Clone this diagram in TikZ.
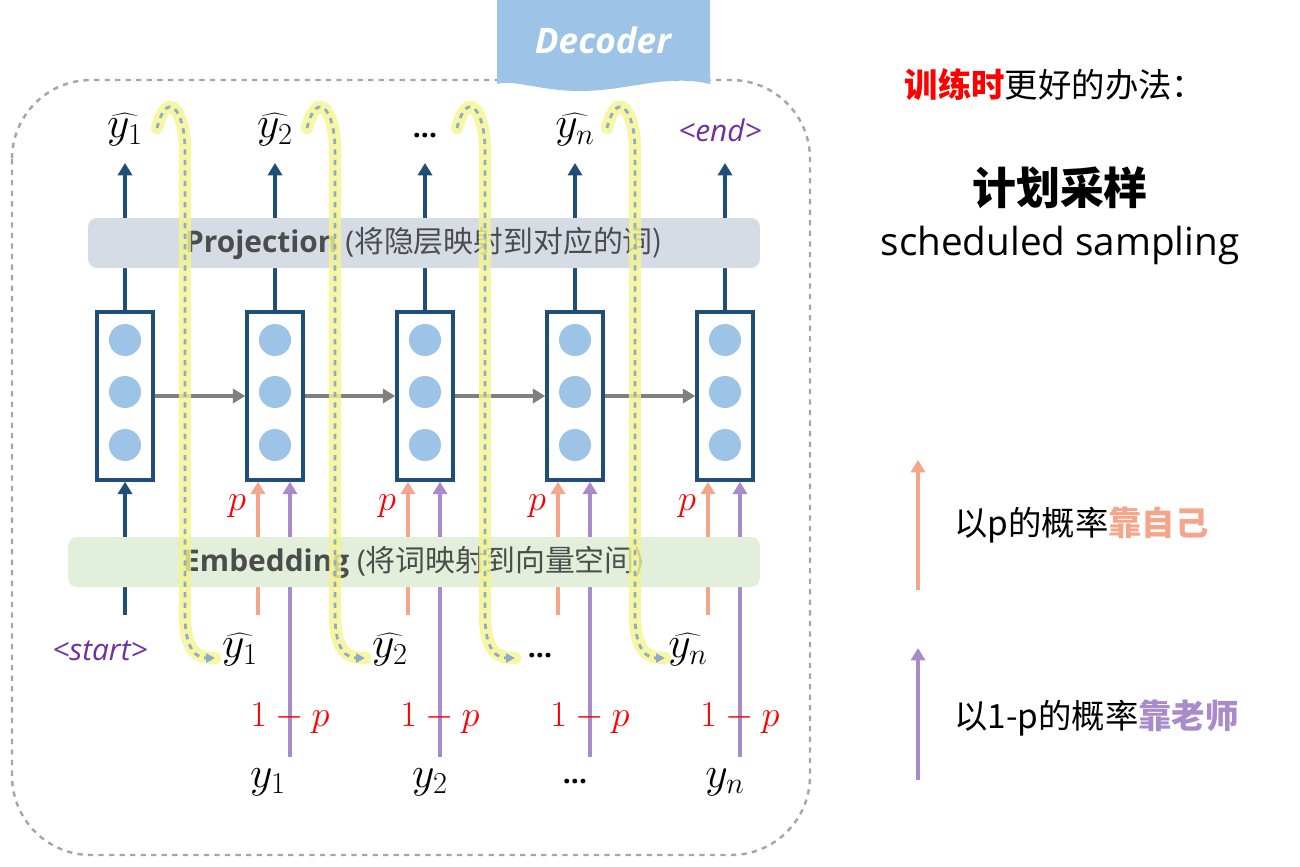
\documentclass[tikz,border=0pt]{standalone}
\usepackage{fontspec}
\setmainfont{Open Sans}
\newfontfamily\cjk{Noto Sans CJK SC}
\usetikzlibrary{arrows.meta}
\definecolor{cellblue}{HTML}{9DC3E6}
\definecolor{boxblue}{HTML}{1F4E79}
\definecolor{projgray}{HTML}{D6DCE5}
\definecolor{embgreen}{HTML}{E2EFDA}
\definecolor{selfred}{HTML}{F4A58A}
\definecolor{teachpurple}{HTML}{A98ACB}
\definecolor{tokpurple}{HTML}{7030A0}
\definecolor{hlyellow}{HTML}{F5F58C}
\definecolor{loopblue}{HTML}{8FAACB}
\tikzset{
  cell/.style={draw=boxblue,line width=2pt,fill=white,minimum width=1.12cm,minimum height=3.36cm},
  dot/.style={circle,fill=cellblue,minimum size=0.64cm,inner sep=0pt},
  uparrow/.style={boxblue,line width=2pt,-{Triangle[length=7pt,width=8pt]}},
  selfarrow/.style={selfred,line width=2pt,-{Triangle[length=7pt,width=8pt]}},
  teacharrow/.style={teachpurple,line width=2pt,-{Triangle[length=7pt,width=8pt]}},
  hidarrow/.style={gray,line width=2pt,-{Triangle[length=7pt,width=8pt]}},
  bar/.style={rounded corners=5pt,minimum height=1cm,inner sep=0pt},
  hat/.style={font=\fontsize{26}{28}\selectfont},
  tok/.style={text=tokpurple,font=\fontsize{17}{20}\selectfont\itshape},
  prob/.style={text=red,font=\fontsize{20}{22}\selectfont},
  loophl/.style={hlyellow,line width=7pt,line cap=round,opacity=0.8},
  loopline/.style={loopblue,line width=1.6pt,dashed,-{Triangle[length=5pt,width=5pt]}},
}
\begin{document}
\begin{tikzpicture}[x=0.02cm,y=-0.02cm]
\useasboundingbox (0,0) rectangle (1300,866);
% outer frame
\draw[gray!70,dashed,line width=1.4pt,rounded corners=45pt] (12,80) rectangle (810,855);
% decoder tab
\fill[cellblue] (497,0) -- (710,0) -- (710,84) .. controls (660,72) and (620,96) .. (560,90) .. controls (530,87) and (510,80) .. (497,84) -- cycle;
\node[text=white,font=\fontsize{20}{24}\selectfont\bfseries\itshape] (dec) at (603,40) {Decoder};
% cells and their inputs
\foreach \i/\x in {1/125,2/275,3/425,4/575,5/725}{
  \node[cell] (c\i) at (\x,396) {};
  \node[dot] at (\x,340) {};
  \node[dot] at (\x,392) {};
  \node[dot] at (\x,445) {};
  \coordinate (top\i) at (\x,163);
  \draw[uparrow] (c\i.north) -- (top\i);
}
\foreach \i/\j in {1/2,2/3,3/4,4/5}
  \draw[hidarrow] (c\i.east) -- (c\j.west);
% outputs
\node[hat] (o1) at (125,130) {$\widehat{y_1}$};
\node[hat] (o2) at (275,130) {$\widehat{y_2}$};
\node[font=\fontsize{16}{18}\selectfont\bfseries] (o3) at (425,136) {...};
\node[hat] (o4) at (575,130) {$\widehat{y_n}$};
\node[tok] (o5) at (720,130) {<end>};
% inputs
\coordinate (in1) at (125,615);
\draw[uparrow] (in1) -- (c1.south);
\foreach \i/\x in {2/275,3/425,4/575,5/725}{
  \coordinate (s\i) at (\x-17,615);
  \coordinate (t\i) at (\x+15,757);
  \draw[selfarrow] (s\i) -- (c\i.south -| s\i);
  \draw[teacharrow] (t\i) -- (c\i.south -| t\i);
  \node[prob] (p\i) at (\x-38,506) {$p$};
  \node[prob] (q\i) at (\x+15,718) {$1-p$};
}
% bars on top
\node[bar,fill=projgray,minimum width=13.44cm] (proj) at (424,243)
  {\fontsize{17}{20}\selectfont\color{gray!60!black}\textbf{Projection} (\cjk 将隐层映射到对应的词)};
\node[bar,fill=embgreen,minimum width=13.84cm] (emb) at (414,562)
  {\fontsize{17}{20}\selectfont\color{gray!60!black}\textbf{Embedding} (\cjk 将词映射到向量空间)};
% bottom labels
\node[tok] (st) at (100,651) {<start>};
\node[hat] (f2) at (240,650) {$\widehat{y_1}$};
\node[hat] (f3) at (390,650) {$\widehat{y_2}$};
\node[font=\fontsize{16}{18}\selectfont\bfseries] (f4) at (540,656) {...};
\node[hat] (f5) at (688,650) {$\widehat{y_n}$};
\node[hat] (g2) at (268,782) {$y_1$};
\node[hat] (g3) at (430,782) {$y_2$};
\node[font=\fontsize{16}{18}\selectfont\bfseries] (g4) at (575,782) {...};
\node[hat] (g5) at (725,782) {$y_n$};
% feedback loops
\foreach \i/\j/\x in {1/2/125,2/3/275,3/4/425,4/5/575}{
  \coordinate (ls\i) at (\x+32,128);
  \coordinate (lu\i) at (\x+60,150);
  \coordinate (ld\i) at (\x+60,615);
  \coordinate (le\i) at (\x+90,658);
  \draw[loophl] (ls\i) .. controls +(10,-40) and +(0,-40) .. (lu\i) -- (ld\i) .. controls +(0,40) and +(-15,0) .. (le\i);
  \draw[loopline] (ls\i) .. controls +(10,-40) and +(0,-40) .. (lu\i) -- (ld\i) .. controls +(0,40) and +(-15,0) .. (le\i);
}
% right side
\node[font=\fontsize{19}{22}\selectfont\cjk] (tip) at (1055,85) {\textcolor{red}{\bfseries 训练时}更好的办法：};
\node[font=\fontsize{25}{28}\selectfont\cjk\bfseries] (title) at (1060,188) {计划采样};
\node[font=\fontsize{22}{26}\selectfont] (sub) at (1060,245) {scheduled sampling};
\coordinate (la) at (918,590);
\coordinate (lb) at (918,460);
\coordinate (lc) at (918,780);
\coordinate (ld) at (918,648);
\draw[selfarrow] (la) -- (lb);
\draw[teacharrow] (lc) -- (ld);
\node[anchor=west,font=\fontsize{19}{22}\selectfont\cjk] (lself) at (948,525) {以p的概率\textcolor{selfred}{\bfseries 靠自己}};
\node[anchor=west,font=\fontsize{19}{22}\selectfont\cjk] (lteach) at (948,718) {以1-p的概率\textcolor{teachpurple}{\bfseries 靠老师}};
\end{tikzpicture}
\end{document}
